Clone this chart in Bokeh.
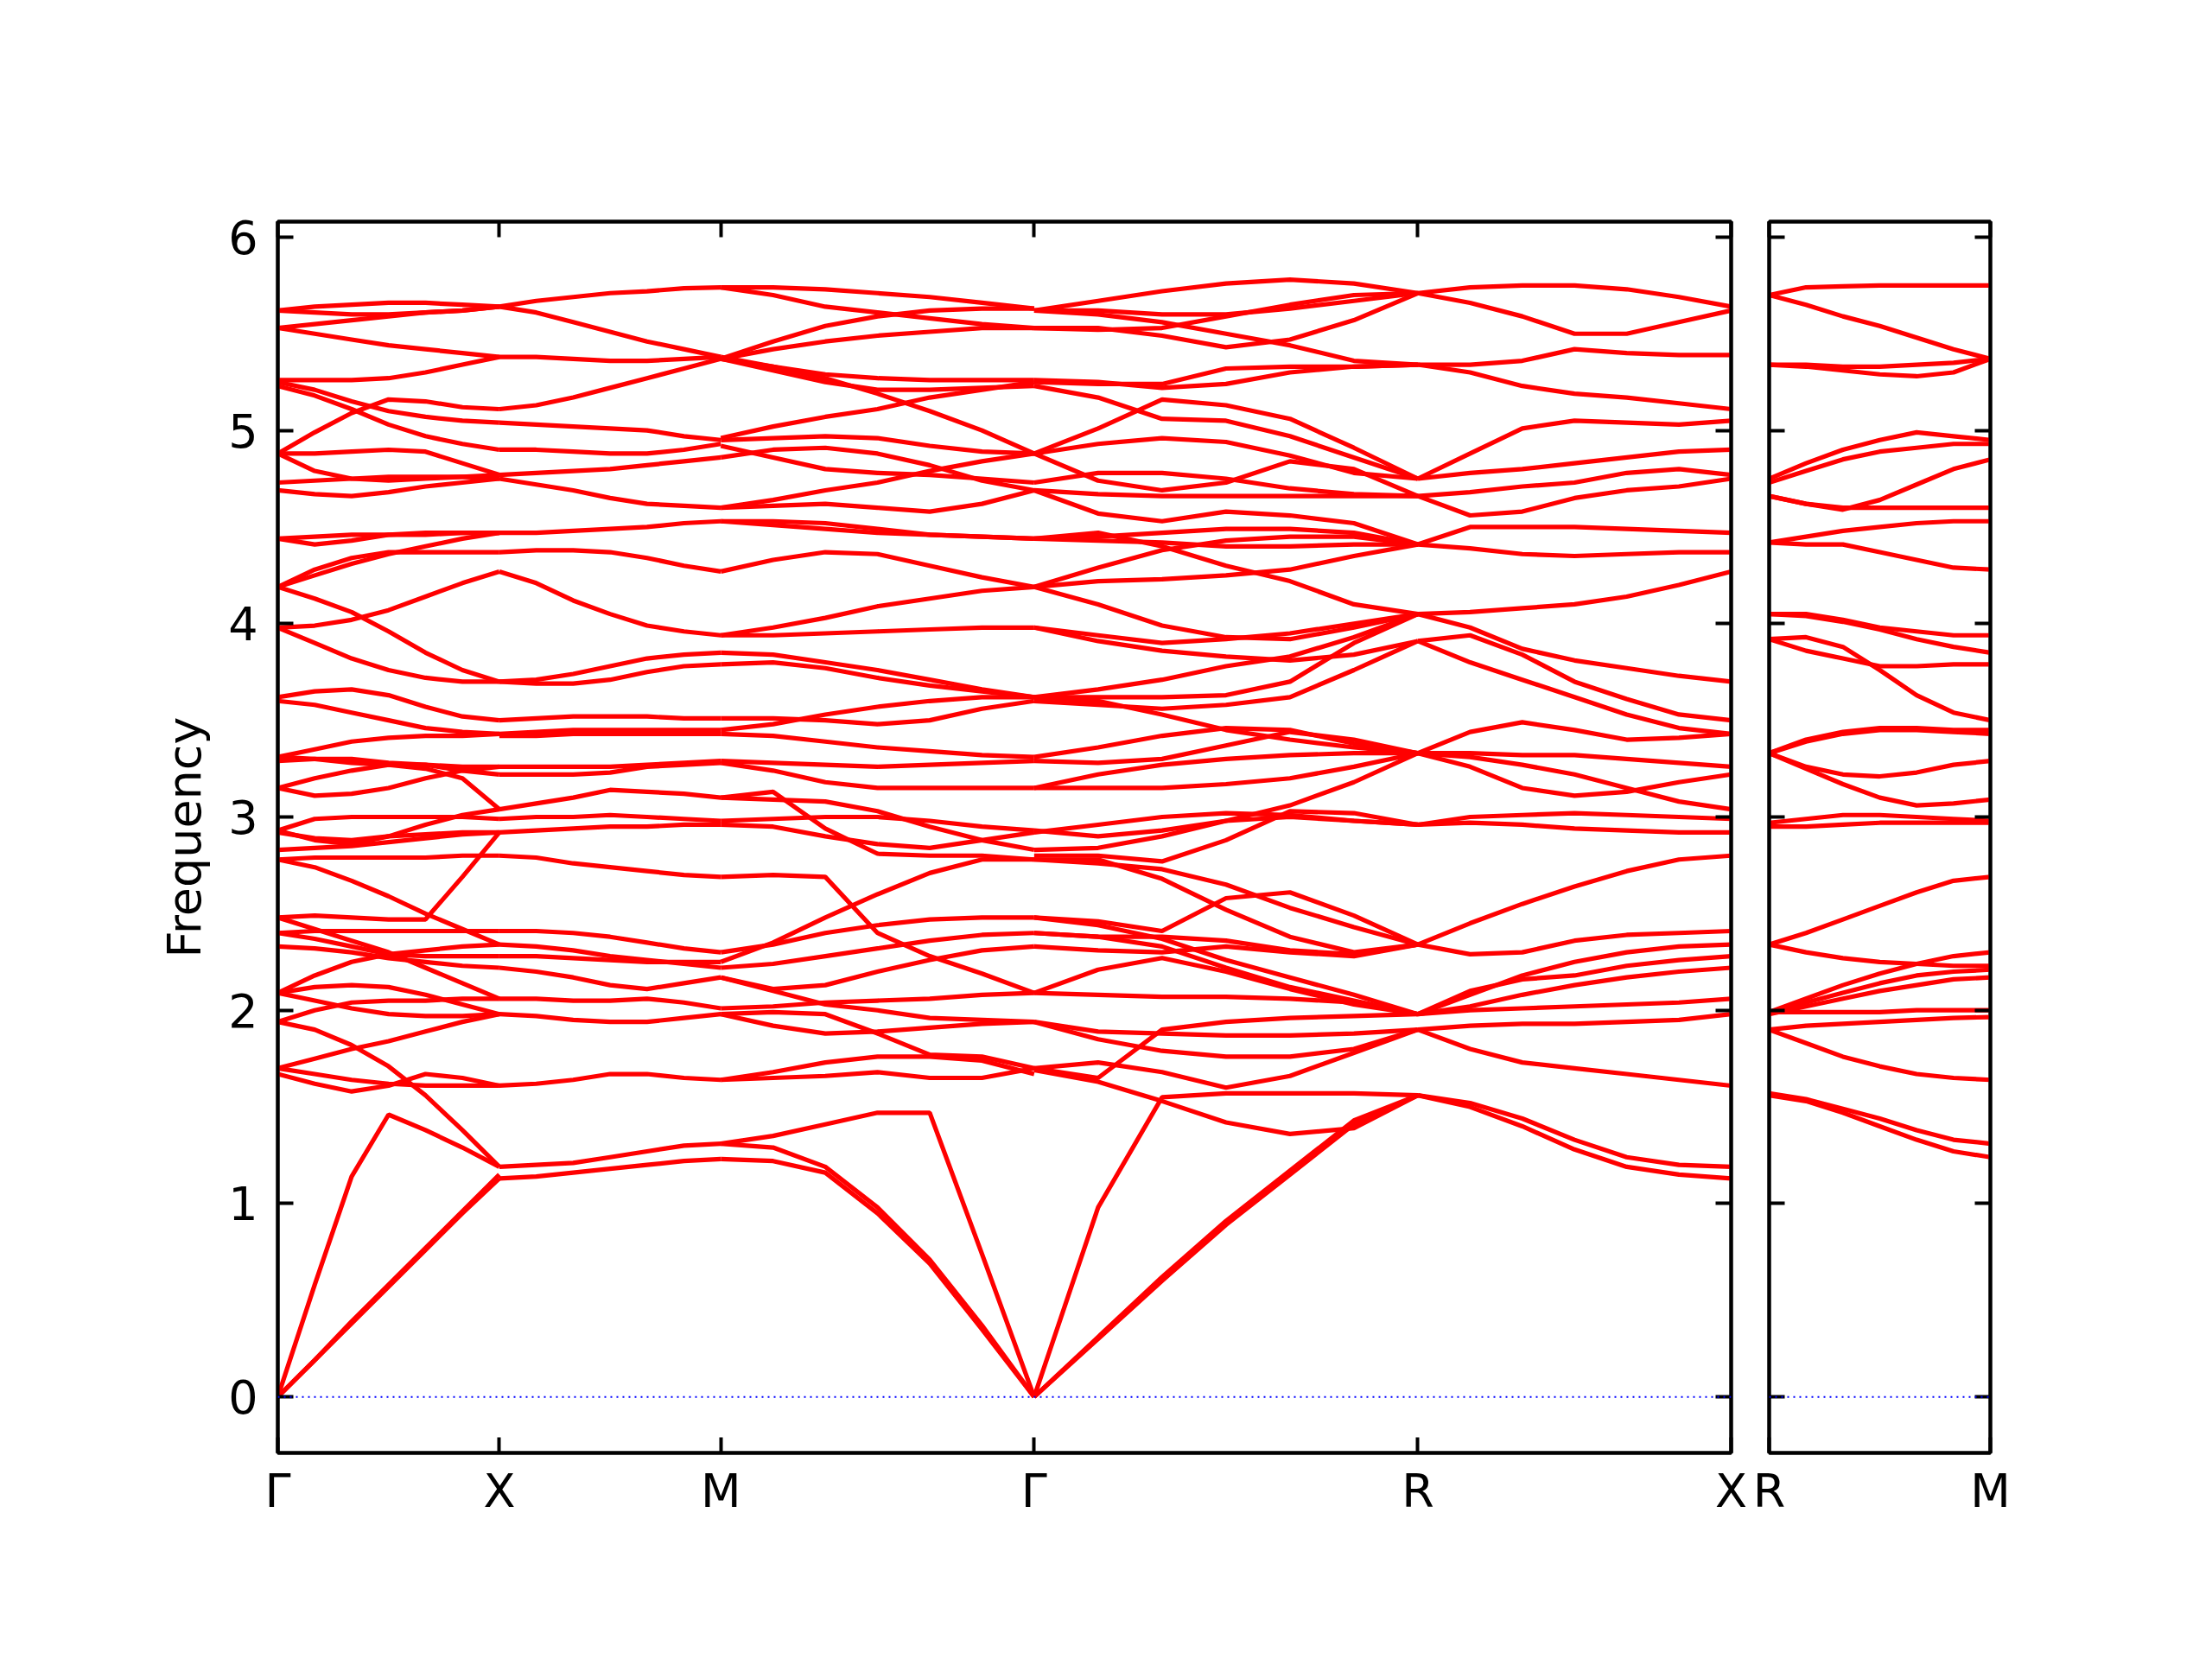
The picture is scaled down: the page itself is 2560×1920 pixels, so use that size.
import numpy as np
from bokeh.plotting import figure
from bokeh.layouts import row
from bokeh.models import Range1d, FixedTicker, LinearAxis, Span, CustomJSTickFormatter
from bokeh.embed import file_html
from bokeh.resources import INLINE

# ---------------- data ----------------
K_POINTS = [0.0, 0.5, 1.0, 1.7071, 2.5731, 3.2802]
K_LABELS = ["Γ", "X", "M", "Γ", "R", "X"]
K2_POINTS = [0.0, 0.5]
K2_LABELS = ["R", "M"]
Y_TICKS = [0, 1, 2, 3, 4, 5, 6]

# each band: frequencies at 7 equally spaced points along the segment
GX = [
    [5.62, 5.64, 5.65, 5.66, 5.66, 5.65, 5.64],
    [5.62, 5.61, 5.60, 5.60, 5.61, 5.62, 5.64],
    [5.53, 5.55, 5.57, 5.59, 5.61, 5.62, 5.64],
    [5.53, 5.50, 5.47, 5.44, 5.42, 5.40, 5.38],
    [5.26, 5.26, 5.26, 5.27, 5.30, 5.34, 5.38],
    [5.25, 5.21, 5.15, 5.10, 5.07, 5.05, 5.04],
    [5.23, 5.18, 5.11, 5.03, 4.97, 4.93, 4.90],
    [4.88, 4.99, 5.09, 5.16, 5.15, 5.12, 5.11],
    [4.88, 4.88, 4.89, 4.90, 4.89, 4.83, 4.77],
    [4.88, 4.79, 4.75, 4.74, 4.75, 4.76, 4.77],
    [4.73, 4.74, 4.75, 4.76, 4.76, 4.76, 4.75],
    [4.69, 4.67, 4.66, 4.68, 4.71, 4.73, 4.75],
    [4.44, 4.45, 4.46, 4.46, 4.46, 4.47, 4.47],
    [4.44, 4.41, 4.43, 4.46, 4.47, 4.47, 4.47],
    [4.19, 4.28, 4.34, 4.37, 4.37, 4.37, 4.37],
    [4.19, 4.25, 4.31, 4.36, 4.40, 4.44, 4.47],
    [4.19, 4.13, 4.06, 3.96, 3.85, 3.76, 3.70],
    [3.98, 3.99, 4.02, 4.07, 4.14, 4.21, 4.27],
    [3.98, 3.90, 3.82, 3.76, 3.72, 3.70, 3.70],
    [3.62, 3.65, 3.66, 3.63, 3.57, 3.52, 3.50],
    [3.60, 3.58, 3.54, 3.50, 3.46, 3.44, 3.43],
    [3.31, 3.35, 3.39, 3.41, 3.42, 3.42, 3.43],
    [3.29, 3.30, 3.30, 3.28, 3.27, 3.26, 3.26],
    [3.15, 3.20, 3.24, 3.27, 3.27, 3.24, 3.22],
    [3.15, 3.11, 3.12, 3.15, 3.20, 3.24, 3.26],
    [3.31, 3.30, 3.28, 3.27, 3.25, 3.20, 3.04],
    [2.93, 2.99, 3.00, 3.00, 3.00, 3.00, 2.99],
    [2.93, 2.88, 2.86, 2.90, 2.96, 3.01, 3.04],
    [2.92, 2.89, 2.88, 2.90, 2.91, 2.92, 2.92],
    [2.83, 2.84, 2.85, 2.87, 2.89, 2.91, 2.92],
    [2.78, 2.79, 2.79, 2.79, 2.79, 2.80, 2.80],
    [2.78, 2.74, 2.67, 2.59, 2.50, 2.42, 2.34],
    [2.48, 2.49, 2.48, 2.47, 2.47, 2.69, 2.92],
    [2.48, 2.42, 2.36, 2.30, 2.22, 2.14, 2.06],
    [2.40, 2.41, 2.41, 2.41, 2.41, 2.41, 2.41],
    [2.40, 2.37, 2.33, 2.29, 2.28, 2.28, 2.28],
    [2.33, 2.32, 2.30, 2.27, 2.25, 2.23, 2.22],
    [2.09, 2.18, 2.25, 2.29, 2.31, 2.33, 2.34],
    [2.09, 2.12, 2.13, 2.12, 2.08, 2.03, 1.98],
    [2.09, 2.05, 2.01, 1.98, 1.97, 1.97, 1.98],
    [1.94, 1.90, 1.82, 1.71, 1.56, 1.38, 1.19],
    [1.94, 2.00, 2.04, 2.05, 2.05, 2.06, 2.06],
    [1.70, 1.75, 1.80, 1.84, 1.89, 1.94, 1.98],
    [1.70, 1.67, 1.64, 1.62, 1.61, 1.61, 1.61],
    [1.67, 1.62, 1.58, 1.61, 1.67, 1.65, 1.61],
    [0.00, 0.19, 0.38, 0.57, 0.76, 0.95, 1.13],
    [0.00, 0.19, 0.39, 0.58, 0.77, 0.96, 1.15],
    [0.00, 0.58, 1.14, 1.46, 1.38, 1.29, 1.19],
]

XM = [
    [5.64, 5.67, 5.69, 5.71, 5.72, 5.735, 5.74],
    [5.64, 5.61, 5.56, 5.51, 5.46, 5.42, 5.38],
    [5.38, 5.38, 5.37, 5.36, 5.36, 5.37, 5.38],
    [5.11, 5.13, 5.17, 5.22, 5.27, 5.32, 5.37],
    [5.04, 5.03, 5.02, 5.01, 5.00, 4.97, 4.95],
    [4.90, 4.90, 4.89, 4.88, 4.88, 4.90, 4.93],
    [4.77, 4.78, 4.79, 4.80, 4.82, 4.84, 4.86],
    [4.75, 4.72, 4.69, 4.65, 4.62, 4.61, 4.60],
    [4.47, 4.47, 4.48, 4.49, 4.50, 4.52, 4.53],
    [4.37, 4.38, 4.38, 4.37, 4.34, 4.30, 4.27],
    [4.27, 4.21, 4.12, 4.05, 3.99, 3.96, 3.94],
    [3.70, 3.71, 3.74, 3.78, 3.82, 3.84, 3.85],
    [3.70, 3.69, 3.69, 3.71, 3.75, 3.78, 3.79],
    [3.50, 3.51, 3.52, 3.52, 3.52, 3.51, 3.51],
    [3.43, 3.44, 3.45, 3.45, 3.45, 3.45, 3.45],
    [3.42, 3.42, 3.43, 3.43, 3.43, 3.43, 3.43],
    [3.26, 3.26, 3.26, 3.26, 3.27, 3.28, 3.29],
    [3.22, 3.22, 3.22, 3.23, 3.26, 3.27, 3.28],
    [3.04, 3.07, 3.10, 3.14, 3.13, 3.12, 3.10],
    [2.99, 3.00, 3.00, 3.01, 3.00, 2.99, 2.98],
    [2.92, 2.93, 2.94, 2.95, 2.95, 2.96, 2.96],
    [2.80, 2.79, 2.76, 2.74, 2.72, 2.70, 2.69],
    [2.41, 2.41, 2.40, 2.38, 2.35, 2.32, 2.30],
    [2.34, 2.33, 2.31, 2.28, 2.26, 2.24, 2.22],
    [2.28, 2.28, 2.27, 2.26, 2.25, 2.25, 2.25],
    [2.22, 2.20, 2.17, 2.13, 2.11, 2.14, 2.17],
    [2.06, 2.06, 2.05, 2.05, 2.06, 2.04, 2.01],
    [1.98, 1.97, 1.95, 1.94, 1.94, 1.96, 1.98],
    [1.61, 1.62, 1.64, 1.67, 1.67, 1.65, 1.64],
    [1.19, 1.20, 1.21, 1.24, 1.27, 1.30, 1.31],
    [1.13, 1.14, 1.16, 1.18, 1.20, 1.22, 1.23],
]

MG = [
    [5.74, 5.74, 5.73, 5.71, 5.69, 5.66, 5.63],
    [5.74, 5.70, 5.64, 5.61, 5.58, 5.55, 5.53],
    [5.37, 5.46, 5.54, 5.59, 5.62, 5.63, 5.63],
    [5.37, 5.42, 5.46, 5.49, 5.51, 5.53, 5.53],
    [5.37, 5.33, 5.29, 5.27, 5.26, 5.26, 5.26],
    [5.37, 5.31, 5.25, 5.21, 5.21, 5.22, 5.23],
    [5.38, 5.33, 5.27, 5.19, 5.10, 5.00, 4.88],
    [4.96, 5.02, 5.07, 5.11, 5.17, 5.21, 5.25],
    [4.95, 4.96, 4.97, 4.96, 4.92, 4.89, 4.88],
    [4.92, 4.86, 4.80, 4.78, 4.77, 4.75, 4.73],
    [4.86, 4.90, 4.91, 4.88, 4.82, 4.74, 4.69],
    [4.60, 4.64, 4.69, 4.73, 4.79, 4.84, 4.88],
    [4.60, 4.61, 4.62, 4.60, 4.58, 4.62, 4.69],
    [4.53, 4.51, 4.49, 4.47, 4.46, 4.45, 4.44],
    [4.53, 4.53, 4.52, 4.49, 4.46, 4.45, 4.44],
    [4.27, 4.33, 4.37, 4.36, 4.30, 4.24, 4.19],
    [3.94, 3.98, 4.03, 4.09, 4.13, 4.17, 4.19],
    [3.94, 3.94, 3.95, 3.96, 3.97, 3.98, 3.98],
    [3.85, 3.84, 3.80, 3.76, 3.71, 3.66, 3.62],
    [3.79, 3.80, 3.77, 3.72, 3.68, 3.65, 3.62],
    [3.51, 3.51, 3.50, 3.48, 3.50, 3.56, 3.60],
    [3.45, 3.48, 3.53, 3.57, 3.60, 3.62, 3.62],
    [3.43, 3.42, 3.39, 3.36, 3.34, 3.32, 3.31],
    [3.29, 3.28, 3.27, 3.26, 3.27, 3.28, 3.29],
    [3.28, 3.24, 3.18, 3.15, 3.15, 3.15, 3.15],
    [3.10, 3.13, 2.94, 2.81, 2.80, 2.80, 2.78],
    [3.10, 3.09, 3.08, 3.03, 2.95, 2.88, 2.83],
    [2.98, 2.99, 3.00, 3.00, 2.98, 2.95, 2.93],
    [2.96, 2.95, 2.90, 2.86, 2.84, 2.88, 2.92],
    [2.69, 2.70, 2.69, 2.40, 2.28, 2.19, 2.09],
    [2.25, 2.35, 2.48, 2.60, 2.71, 2.78, 2.78],
    [2.30, 2.34, 2.40, 2.44, 2.47, 2.48, 2.48],
    [2.22, 2.24, 2.28, 2.32, 2.36, 2.39, 2.40],
    [2.17, 2.11, 2.13, 2.20, 2.26, 2.31, 2.33],
    [2.17, 2.10, 2.03, 2.00, 1.96, 1.95, 1.94],
    [2.01, 2.02, 2.04, 2.05, 2.06, 2.08, 2.09],
    [1.98, 1.92, 1.88, 1.89, 1.91, 1.93, 1.94],
    [1.98, 1.99, 1.98, 1.88, 1.77, 1.76, 1.70],
    [1.64, 1.65, 1.66, 1.68, 1.65, 1.65, 1.70],
    [1.64, 1.68, 1.73, 1.76, 1.76, 1.74, 1.67],
    [1.31, 1.35, 1.41, 1.47, 1.47, 0.74, 0.00],
    [1.31, 1.29, 1.19, 0.98, 0.71, 0.37, 0.00],
    [1.23, 1.22, 1.16, 0.95, 0.69, 0.35, 0.00],
]

GR = [
    [5.62, 5.67, 5.72, 5.76, 5.78, 5.76, 5.71],
    [5.62, 5.62, 5.60, 5.60, 5.63, 5.67, 5.71],
    [5.53, 5.52, 5.53, 5.59, 5.65, 5.70, 5.71],
    [5.62, 5.60, 5.56, 5.50, 5.44, 5.36, 5.34],
    [5.53, 5.53, 5.49, 5.43, 5.47, 5.57, 5.71],
    [5.26, 5.25, 5.22, 5.24, 5.30, 5.33, 5.34],
    [5.25, 5.24, 5.24, 5.32, 5.33, 5.33, 5.34],
    [5.23, 5.17, 5.06, 5.05, 4.97, 4.86, 4.75],
    [4.88, 5.01, 5.16, 5.13, 5.06, 4.91, 4.75],
    [4.88, 4.93, 4.96, 4.94, 4.87, 4.78, 4.75],
    [4.88, 4.74, 4.69, 4.73, 4.84, 4.80, 4.66],
    [4.73, 4.78, 4.78, 4.75, 4.70, 4.67, 4.66],
    [4.69, 4.67, 4.66, 4.66, 4.66, 4.66, 4.66],
    [4.69, 4.57, 4.53, 4.58, 4.56, 4.52, 4.41],
    [4.44, 4.45, 4.47, 4.49, 4.49, 4.47, 4.41],
    [4.44, 4.43, 4.42, 4.40, 4.40, 4.41, 4.41],
    [4.44, 4.47, 4.40, 4.30, 4.22, 4.10, 4.05],
    [4.19, 4.22, 4.23, 4.25, 4.28, 4.35, 4.41],
    [4.19, 4.29, 4.38, 4.43, 4.45, 4.45, 4.41],
    [4.19, 4.10, 3.99, 3.93, 3.92, 3.98, 4.05],
    [3.98, 3.91, 3.86, 3.83, 3.81, 3.84, 3.91],
    [3.98, 3.94, 3.90, 3.92, 3.95, 4.00, 4.05],
    [3.62, 3.66, 3.71, 3.78, 3.83, 3.93, 4.05],
    [3.62, 3.62, 3.62, 3.63, 3.70, 3.90, 4.05],
    [3.62, 3.60, 3.53, 3.45, 3.40, 3.36, 3.33],
    [3.60, 3.58, 3.56, 3.58, 3.62, 3.76, 3.91],
    [3.31, 3.36, 3.42, 3.46, 3.45, 3.38, 3.33],
    [3.29, 3.28, 3.30, 3.37, 3.44, 3.40, 3.33],
    [3.15, 3.22, 3.27, 3.30, 3.32, 3.33, 3.33],
    [3.15, 3.15, 3.15, 3.17, 3.20, 3.26, 3.33],
    [2.83, 2.84, 2.90, 2.98, 3.06, 3.18, 3.33],
    [2.93, 2.90, 2.93, 2.98, 3.00, 2.98, 2.96],
    [2.92, 2.96, 3.00, 3.02, 3.01, 2.98, 2.96],
    [2.80, 2.80, 2.77, 2.88, 3.03, 3.02, 2.96],
    [2.78, 2.76, 2.73, 2.65, 2.53, 2.43, 2.34],
    [2.78, 2.78, 2.68, 2.52, 2.38, 2.30, 2.34],
    [2.48, 2.46, 2.41, 2.58, 2.61, 2.49, 2.34],
    [2.48, 2.44, 2.37, 2.26, 2.17, 2.08, 1.98],
    [2.40, 2.38, 2.33, 2.22, 2.12, 2.05, 1.98],
    [2.40, 2.38, 2.38, 2.36, 2.31, 2.29, 2.34],
    [2.33, 2.31, 2.30, 2.33, 2.30, 2.28, 2.34],
    [2.09, 2.21, 2.27, 2.20, 2.11, 2.03, 1.98],
    [2.09, 2.08, 2.07, 2.07, 2.06, 2.04, 1.98],
    [1.94, 1.89, 1.88, 1.87, 1.87, 1.88, 1.90],
    [1.94, 1.85, 1.79, 1.76, 1.76, 1.80, 1.90],
    [1.70, 1.65, 1.90, 1.94, 1.96, 1.97, 1.98],
    [1.70, 1.73, 1.68, 1.60, 1.66, 1.78, 1.90],
    [1.69, 1.63, 1.53, 1.42, 1.36, 1.39, 1.56],
    [0.00, 0.98, 1.55, 1.57, 1.57, 1.57, 1.56],
    [0.00, 0.31, 0.62, 0.91, 1.17, 1.43, 1.56],
    [0.00, 0.30, 0.60, 0.89, 1.15, 1.41, 1.56],
]

RX = [
    [5.71, 5.74, 5.75, 5.75, 5.73, 5.69, 5.64],
    [5.71, 5.66, 5.59, 5.50, 5.50, 5.56, 5.62],
    [5.34, 5.34, 5.36, 5.42, 5.40, 5.39, 5.39],
    [5.34, 5.30, 5.23, 5.19, 5.17, 5.14, 5.11],
    [4.75, 4.88, 5.01, 5.05, 5.04, 5.03, 5.05],
    [4.75, 4.78, 4.80, 4.83, 4.86, 4.89, 4.90],
    [4.66, 4.68, 4.71, 4.73, 4.78, 4.80, 4.77],
    [4.66, 4.56, 4.58, 4.65, 4.69, 4.71, 4.75],
    [4.41, 4.50, 4.50, 4.50, 4.49, 4.48, 4.47],
    [4.41, 4.39, 4.36, 4.35, 4.36, 4.37, 4.37],
    [4.05, 4.06, 4.08, 4.10, 4.14, 4.20, 4.27],
    [4.05, 3.98, 3.87, 3.81, 3.77, 3.73, 3.70],
    [3.91, 3.94, 3.84, 3.70, 3.61, 3.53, 3.50],
    [3.91, 3.80, 3.71, 3.62, 3.53, 3.46, 3.43],
    [3.33, 3.44, 3.49, 3.45, 3.40, 3.41, 3.43],
    [3.33, 3.33, 3.32, 3.32, 3.30, 3.28, 3.26],
    [3.33, 3.26, 3.15, 3.11, 3.13, 3.18, 3.22],
    [3.33, 3.31, 3.27, 3.22, 3.15, 3.08, 3.04],
    [2.96, 3.00, 3.01, 3.02, 3.01, 3.00, 2.99],
    [2.96, 2.97, 2.96, 2.94, 2.93, 2.92, 2.92],
    [2.34, 2.45, 2.55, 2.64, 2.72, 2.78, 2.80],
    [2.34, 2.29, 2.30, 2.36, 2.39, 2.40, 2.41],
    [1.98, 2.08, 2.18, 2.25, 2.30, 2.33, 2.34],
    [1.98, 2.10, 2.16, 2.18, 2.23, 2.26, 2.28],
    [1.98, 2.02, 2.08, 2.13, 2.17, 2.20, 2.22],
    [1.98, 2.00, 2.01, 2.02, 2.03, 2.04, 2.06],
    [1.90, 1.92, 1.93, 1.93, 1.94, 1.95, 1.98],
    [1.90, 1.80, 1.73, 1.70, 1.67, 1.64, 1.61],
    [1.56, 1.52, 1.44, 1.33, 1.24, 1.20, 1.19],
    [1.56, 1.50, 1.40, 1.28, 1.19, 1.15, 1.13],
]

RM = [
    [5.70, 5.74, 5.745, 5.75, 5.75, 5.75, 5.75],
    [5.70, 5.65, 5.59, 5.54, 5.48, 5.42, 5.37],
    [5.34, 5.34, 5.33, 5.33, 5.34, 5.35, 5.37],
    [5.34, 5.33, 5.31, 5.29, 5.28, 5.30, 5.37],
    [4.75, 4.83, 4.90, 4.95, 4.99, 4.97, 4.95],
    [4.73, 4.79, 4.85, 4.89, 4.91, 4.93, 4.93],
    [4.66, 4.62, 4.60, 4.60, 4.60, 4.60, 4.60],
    [4.66, 4.62, 4.59, 4.64, 4.72, 4.80, 4.85],
    [4.42, 4.45, 4.48, 4.50, 4.52, 4.53, 4.53],
    [4.42, 4.41, 4.41, 4.37, 4.33, 4.29, 4.28],
    [4.05, 4.05, 4.02, 3.98, 3.96, 3.94, 3.94],
    [4.05, 4.04, 4.01, 3.97, 3.92, 3.88, 3.85],
    [3.92, 3.93, 3.88, 3.76, 3.63, 3.54, 3.50],
    [3.92, 3.86, 3.82, 3.78, 3.78, 3.79, 3.79],
    [3.33, 3.40, 3.44, 3.46, 3.46, 3.45, 3.45],
    [3.33, 3.39, 3.43, 3.45, 3.45, 3.44, 3.43],
    [3.33, 3.26, 3.22, 3.21, 3.23, 3.27, 3.29],
    [3.33, 3.25, 3.17, 3.10, 3.06, 3.07, 3.09],
    [2.97, 2.99, 3.01, 3.01, 3.00, 2.99, 2.98],
    [2.95, 2.95, 2.96, 2.97, 2.97, 2.97, 2.97],
    [2.34, 2.40, 2.47, 2.54, 2.61, 2.67, 2.69],
    [2.34, 2.30, 2.27, 2.25, 2.24, 2.23, 2.23],
    [1.99, 2.06, 2.13, 2.19, 2.24, 2.28, 2.30],
    [1.99, 2.04, 2.09, 2.14, 2.18, 2.20, 2.21],
    [1.98, 2.02, 2.06, 2.10, 2.13, 2.16, 2.17],
    [1.99, 1.99, 1.99, 1.99, 2.00, 2.00, 2.00],
    [1.90, 1.92, 1.93, 1.94, 1.95, 1.96, 1.965],
    [1.90, 1.83, 1.76, 1.71, 1.67, 1.65, 1.64],
    [1.57, 1.54, 1.49, 1.44, 1.38, 1.33, 1.31],
    [1.56, 1.53, 1.47, 1.40, 1.33, 1.27, 1.24],
]

MAIN_SEGMENTS = [(0, 1, GX), (1, 2, XM), (2, 3, MG), (3, 4, GR), (4, 5, RX)]
SIDE_SEGMENTS = [(0, 1, RM)]

# ---------------- drawing ----------------
FONT = "DejaVu Sans"
FS = "54px"
LW_AX = 4
BAND_COLOR = "#ff0000"
BAND_W = 5.2


def build_lines(kpts, segments):
    xs, ys = [], []
    for a, b, bands in segments:
        for band in bands:
            xs.append(list(np.linspace(kpts[a], kpts[b], len(band))))
            ys.append(band)
    return xs, ys


def k_formatter(points, labels):
    return CustomJSTickFormatter(
        args=dict(pts=points, labs=labels),
        code="for (let i = 0; i < pts.length; i++) { if (Math.abs(pts[i] - tick) < 1e-6) return labs[i]; } return '';",
    )


def style_axis(ax, show_labels):
    ax.axis_line_width = LW_AX
    ax.axis_line_color = "black"
    ax.major_tick_line_width = LW_AX
    ax.major_tick_line_color = "black"
    ax.major_tick_in = 18
    ax.major_tick_out = 0
    ax.minor_tick_line_color = None
    ax.major_label_text_font = FONT
    if show_labels:
        ax.major_label_text_color = "black"
        ax.major_label_text_font_size = FS
    else:
        ax.major_label_text_color = None
        ax.major_label_text_font_size = "1px"
        ax.major_label_standoff = 0


Y0, Y1 = -0.29, 6.08
FRAME_H = 1425
TOP = 256

p1 = figure(
    frame_width=1682, frame_height=FRAME_H,
    x_range=Range1d(K_POINTS[0], K_POINTS[-1]), y_range=Range1d(Y0, Y1),
    output_backend="svg", toolbar_location=None,
    min_border_left=321, min_border_right=22, min_border_top=TOP, min_border_bottom=190,
    y_axis_label="Frequency",
)
p1.grid.visible = False
p1.outline_line_color = "black"
p1.outline_line_width = LW_AX
p1.background_fill_color = "white"
p1.border_fill_color = "white"

xax = p1.below[0]
xax.ticker = FixedTicker(ticks=K_POINTS, minor_ticks=[])
xax.formatter = k_formatter(K_POINTS, K_LABELS)
style_axis(xax, True)
xax.major_label_standoff = 12

yax = p1.left[0]
yax.ticker = FixedTicker(ticks=Y_TICKS, minor_ticks=[])
style_axis(yax, True)
yax.major_label_standoff = 23
yax.axis_label_text_font = FONT
yax.axis_label_text_font_size = FS
yax.axis_label_text_font_style = "normal"
yax.axis_label_text_color = "black"
yax.axis_label_standoff = 16

top1 = LinearAxis(ticker=FixedTicker(ticks=K_POINTS, minor_ticks=[]))
style_axis(top1, False)
p1.add_layout(top1, "above")
right1 = LinearAxis(ticker=FixedTicker(ticks=Y_TICKS, minor_ticks=[]))
style_axis(right1, False)
p1.add_layout(right1, "right")

xs1, ys1 = build_lines(K_POINTS, MAIN_SEGMENTS)
p1.add_layout(Span(location=0, dimension="width", line_color="blue", line_dash="2 5", line_width=2))
p1.multi_line(xs=xs1, ys=ys1, line_color=BAND_COLOR, line_width=BAND_W)

p2 = figure(
    frame_width=256, frame_height=FRAME_H,
    x_range=Range1d(K2_POINTS[0], K2_POINTS[-1]), y_range=Range1d(Y0, Y1),
    output_backend="svg", toolbar_location=None,
    min_border_left=22, min_border_right=60, min_border_top=TOP, min_border_bottom=190,
)
p2.grid.visible = False
p2.outline_line_color = "black"
p2.outline_line_width = LW_AX
p2.background_fill_color = "white"
p2.border_fill_color = "white"

xax2 = p2.below[0]
xax2.ticker = FixedTicker(ticks=K2_POINTS, minor_ticks=[])
xax2.formatter = k_formatter(K2_POINTS, K2_LABELS)
style_axis(xax2, True)
xax2.major_label_standoff = 12

yax2 = p2.left[0]
yax2.ticker = FixedTicker(ticks=Y_TICKS, minor_ticks=[])
style_axis(yax2, False)

top2 = LinearAxis(ticker=FixedTicker(ticks=K2_POINTS, minor_ticks=[]))
style_axis(top2, False)
p2.add_layout(top2, "above")
right2 = LinearAxis(ticker=FixedTicker(ticks=Y_TICKS, minor_ticks=[]))
style_axis(right2, False)
p2.add_layout(right2, "right")

xs2, ys2 = build_lines(K2_POINTS, SIDE_SEGMENTS)
p2.add_layout(Span(location=0, dimension="width", line_color="blue", line_dash="2 5", line_width=2))
p2.multi_line(xs=xs2, ys=ys2, line_color=BAND_COLOR, line_width=BAND_W)

layout = row(p1, p2)
open("out.html", "w").write(file_html(layout, INLINE))
